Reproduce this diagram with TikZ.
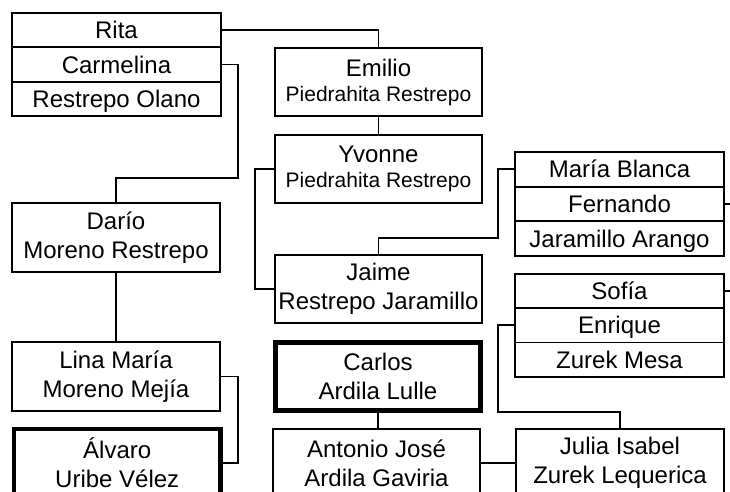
\documentclass[tikz,border=0pt]{standalone}
\usepackage{fontspec}
\setmainfont{Liberation Sans}
\newcommand{\smallnm}{\fontsize{21}{25}\selectfont}
\begin{document}
\begin{tikzpicture}[x=1pt,y=-1pt,
  box/.style={draw, line width=1.9pt, inner sep=0pt, outer sep=0pt, align=center, font=\fontsize{24}{29}\selectfont},
  one/.style={box, minimum width=209pt, minimum height=34.3pt, text height=17.2pt, text depth=0pt},
  two/.style={box, minimum width=207pt, minimum height=68.5pt},
  heavy/.style={line width=4.5pt},
  link/.style={line width=1.9pt}]
\useasboundingbox (0,0) rectangle (730,492);
\clip (0,0) rectangle (730,492);
% left stack
\node[one] (rita) at (116.5,30.2) {Rita};
\node[one] (carmelina) at (116.5,64.5) {Carmelina};
\node[one] (restrepoO) at (116.5,98.8) {Restrepo Olano};
% right stacks
\node[one, minimum height=34.7pt] (mariab) at (619.5,169.3) {María Blanca};
\node[one, minimum height=34.7pt] (fernando) at (619.5,204) {Fernando};
\node[one, minimum height=34.7pt] (jaramilloA) at (619.5,238.7) {Jaramillo Arango};
\node[one] (sofia) at (619.5,291) {Sofía};
\node[one] (enrique) at (619.5,325.3) {Enrique};
\node[one] (zurekM) at (619.5,359.6) {Zurek Mesa};
% two-line boxes
\node[two] (emilio) at (378.5,82) {Emilio\\[-4pt]{\smallnm Piedrahita Restrepo}};
\node[two] (yvonne) at (378.5,169) {Yvonne\\[-4pt]{\smallnm Piedrahita Restrepo}};
\node[two, minimum width=208pt] (dario) at (116,237.5) {Darío\\Moreno Restrepo};
\node[two] (jaime) at (378.5,289) {Jaime\\Restrepo Jaramillo};
\node[two, minimum width=208pt] (lina) at (116,376.5) {Lina María\\Moreno Mejía};
\node[two, heavy, minimum width=206.5pt] (alvaro) at (117.25,463) {Álvaro\\Uribe Vélez};
\node[two, heavy, minimum width=205pt, minimum height=68pt] (carlos) at (378,376.5) {Carlos\\Ardila Lulle};
\node[two] (antonio) at (376.5,463) {Antonio José\\Ardila Gaviria};
\node[two, minimum width=208pt] (julia) at (620,463) {Julia Isabel\\Zurek Lequerica};
% free ends
\coordinate (fernandoEnd) at (731,204);
\coordinate (sofiaEnd) at (731,291);
% connectors
\draw[link] (rita.east) -| (emilio.north);
\draw[link] (carmelina.east) -- ++(17,0) coordinate (c1) -- (c1 |- 0,178) -| (dario.north);
\draw[link] (emilio.south) -- (yvonne.north);
\draw[link] (yvonne.west) -- ++(-20,0) |- (jaime.west);
\draw[link] (jaime.north) |- (498,238) coordinate (c2) |- (mariab.west);
\draw[link] (fernando.east) -- (fernandoEnd);
\draw[link] (sofia.east) -- (sofiaEnd);
\draw[link] (enrique.west) -| (498,412) coordinate (c3) -| (julia.north);
\draw[link] (dario.south) -- (lina.north);
\draw[link] (lina.east) -- ++(18,0) |- (alvaro.east);
\draw[link] (carlos.south) -- (carlos.south |- antonio.north);
\draw[link] (antonio.east) -- (julia.west);
\end{tikzpicture}
\end{document}
